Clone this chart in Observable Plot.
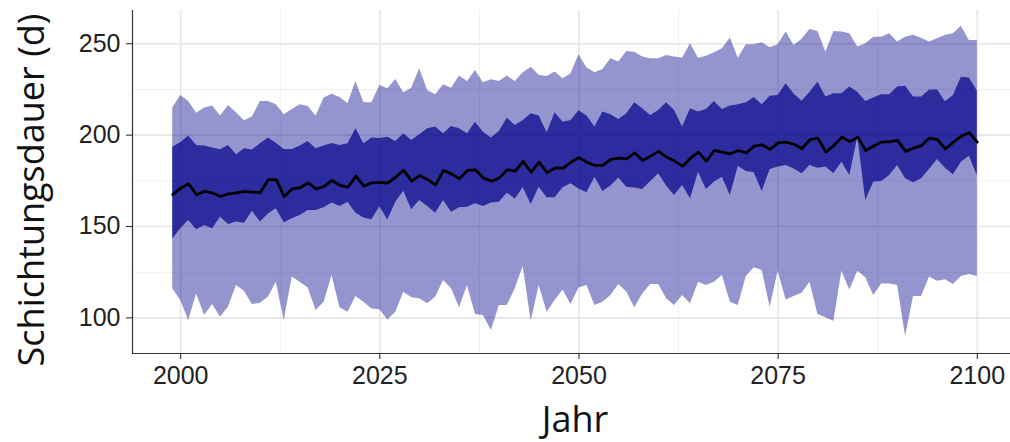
<!DOCTYPE html>
<html>
<head>
<meta charset="utf-8">
<script src="https://cdn.jsdelivr.net/npm/d3@7"></script>
<script src="https://cdn.jsdelivr.net/npm/@observablehq/plot@0.6"></script>
<style>
  html, body { margin: 0; padding: 0; background: #fff; overflow: hidden; }
  #chart { width: 1010px; height: 442px; }
</style>
</head>
<body>
<div id="chart"></div>
<script>
const years = [1999,2000,2001,2002,2003,2004,2005,2006,2007,2008,2009,2010,2011,2012,2013,2014,2015,2016,2017,2018,2019,2020,2021,2022,2023,2024,
2025,2026,2027,2028,2029,2030,2031,2032,2033,2034,2035,2036,2037,2038,2039,2040,2041,2042,2043,2044,2045,2046,2047,2048,2049,
2050,2051,2052,2053,2054,2055,2056,2057,2058,2059,2060,2061,2062,2063,2064,2065,2066,2067,2068,2069,2070,2071,2072,2073,2074,2075,2076,
2077,2078,2079,2080,2081,2082,2083,2084,2085,2086,2087,2088,2089,2090,2091,2092,2093,2094,2095,2096,2097,2098,2099,2100];

const outerHigh = [214.8,221.7,218.4,212.0,214.8,215.9,210.4,216.2,212.2,207.8,209.9,218.4,218.4,216.6,211.1,214.0,216.6,215.7,210.4,220.3,222.4,220.6,217.2,229.4,217.7,217.7,
227.2,225.4,230.5,223.2,225.7,236.3,224.4,222.1,227.6,225.7,232.3,229.4,235.4,228.6,230.3,229.4,232.3,229.4,234.1,237.2,232.7,232.1,234.5,230.8,233.6,
244.0,236.7,234.1,235.9,241.8,240.0,245.8,245.4,242.7,241.8,241.8,243.6,242.7,242.1,250.0,242.1,243.2,245.1,247.3,253.1,242.1,249.4,249.4,250.5,247.8,249.4,256.4,
249.1,252.5,257.8,256.7,245.4,256.7,256.4,255.5,248.2,250.0,253.6,253.6,255.5,250.9,253.6,254.6,253.0,250.9,252.7,254.6,255.5,259.6,251.8,251.8];

const innerHigh = [193.4,195.8,199.5,194.3,194.0,192.9,192.0,194.3,189.2,192.5,191.8,195.3,198.4,195.6,192.2,192.2,194.0,196.5,192.5,194.0,195.4,194.3,195.3,203.5,195.3,198.4,
198.2,198.9,196.5,200.7,197.1,200.2,203.5,204.4,200.7,204.7,203.5,200.7,207.1,201.6,198.4,202.0,209.3,205.3,208.0,211.7,210.4,201.3,212.2,207.1,208.0,
213.3,210.4,204.4,212.6,211.1,208.6,211.7,217.7,214.4,210.8,213.5,217.7,213.5,204.4,214.4,212.6,214.0,218.4,214.0,215.9,216.6,217.7,220.6,216.6,221.3,221.7,228.1,
222.5,218.5,223.5,229.0,220.8,222.6,222.6,226.3,223.5,218.4,220.3,222.1,222.1,226.3,226.7,220.8,220.8,224.6,224.9,218.2,221.7,231.7,231.3,224.1];

const median = [167.5,171.0,173.4,167.3,169.3,168.3,166.4,167.9,168.4,169.2,168.8,168.6,175.6,175.6,166.4,170.6,171.2,173.9,170.6,171.9,175.2,172.5,171.5,177.6,172.1,173.9,
174.1,173.7,177.0,180.7,174.8,177.9,175.7,172.8,180.7,178.8,176.1,180.7,181.0,176.5,174.8,176.6,181.0,180.3,185.6,179.7,185.2,179.4,182.1,181.9,185.2,
187.7,185.2,183.4,183.4,186.7,187.4,187.0,190.3,186.1,188.5,191.1,188.0,185.8,183.0,187.4,190.7,185.8,191.6,190.7,189.8,191.6,190.3,194.0,194.7,192.2,195.8,196.2,
195.0,192.7,197.6,198.4,190.7,194.3,198.9,196.5,198.9,191.6,194.0,196.2,196.5,197.1,191.1,192.9,194.3,198.4,197.6,192.5,196.2,199.5,201.3,196.2];

const innerLow = [143.2,148.7,153.3,148.2,150.5,148.7,155.1,151.1,152.4,151.8,158.4,152.4,156.9,159.7,152.0,154.2,156.0,158.7,158.7,160.2,162.8,161.0,163.3,157.3,154.7,153.7,
160.8,153.6,163.3,169.3,159.1,164.2,160.9,157.3,164.2,157.8,160.2,160.6,162.4,160.9,162.8,163.3,168.2,165.1,171.2,162.0,171.5,165.7,165.7,171.2,173.4,
170.5,168.4,177.0,169.2,172.1,176.5,171.5,171.0,170.3,174.6,178.8,172.1,167.0,172.4,165.2,179.7,170.3,174.3,177.0,167.0,183.0,180.1,179.4,169.2,181.2,182.5,183.4,
181.4,178.8,183.4,181.9,182.5,178.8,185.2,177.9,198.9,164.2,174.3,174.6,177.9,183.4,176.1,173.9,176.1,181.2,186.7,181.9,178.3,185.2,188.5,177.9];

const outerLow = [115.9,109.5,98.6,113.1,101.3,107.3,100.4,105.9,117.7,114.6,107.3,108.0,111.3,119.5,98.6,122.3,119.5,116.4,104.0,108.6,123.2,105.5,103.1,111.7,108.6,104.9,
104.5,98.9,103.1,114.0,111.0,110.4,107.7,111.3,120.4,115.9,105.5,117.7,101.8,101.3,93.1,106.7,106.7,115.9,128.1,98.2,117.7,103.1,109.5,115.3,107.3,
116.3,117.7,106.7,108.6,112.2,118.3,114.1,105.5,113.1,118.3,118.3,110.4,106.7,112.2,107.7,119.5,117.7,119.5,123.2,108.6,106.7,122.6,127.4,125.9,105.8,125.5,109.8,
111.7,113.5,119.5,101.8,100.0,98.2,125.5,115.3,125.5,121.9,112.2,118.6,118.6,117.7,89.8,111.7,111.7,122.3,120.1,120.8,118.3,122.6,123.7,122.6];

const xTicks = [2000, 2025, 2050, 2075, 2100];
const xMinor = [2012.5, 2037.5, 2062.5, 2087.5];
const yTicks = [100, 150, 200, 250];
const yMinor = [125, 175, 225];
const xDomain = [1993.95, 2105.05];
const yDomain = [80.5, 268.2];
const xTitle = "Jahr";
const yTitle = "Schichtungsdauer (d)";

const rows = years.map((year, i) => ({
  year,
  outerLow: outerLow[i], innerLow: innerLow[i], median: median[i],
  innerHigh: innerHigh[i], outerHigh: outerHigh[i]
}));

const tickFont = "'Liberation Sans', Arial, Helvetica, sans-serif";

const chart = Plot.plot({
  width: 1010,
  height: 442,
  marginLeft: 132,
  marginRight: 0,
  marginTop: 10,
  marginBottom: 89,
  style: { fontFamily: tickFont, fontSize: "25px", background: "white", overflow: "hidden" },
  x: { domain: xDomain, range: [132, 1017] },
  y: { domain: yDomain, range: [353, 10] },
  marks: [
    Plot.ruleY(yMinor, { stroke: "#efefef", strokeWidth: 1 }),
    Plot.ruleX(xMinor, { stroke: "#efefef", strokeWidth: 1 }),
    Plot.ruleY(yTicks, { stroke: "#e6e6e6", strokeWidth: 1.6 }),
    Plot.ruleX(xTicks, { stroke: "#e6e6e6", strokeWidth: 1.6 }),
    Plot.areaY(rows, { x: "year", y1: "outerLow", y2: "outerHigh", fill: "#00008b", fillOpacity: 0.42 }),
    Plot.areaY(rows, { x: "year", y1: "innerLow", y2: "innerHigh", fill: "#00008b", fillOpacity: 0.7 }),
    Plot.lineY(rows, { x: "year", y: "median", stroke: "black", strokeWidth: 2.8 }),
    Plot.ruleX([xDomain[0]], { stroke: "#333", strokeWidth: 1.2 }),
    Plot.ruleY([yDomain[0]], { stroke: "#333", strokeWidth: 1.2 }),
    Plot.axisX(xTicks, { tickSize: 6, tickPadding: 7, fontSize: 25, color: "#222", tickFormat: d => String(d), label: null }),
    Plot.axisY(yTicks, { tickSize: 6, tickPadding: 6, fontSize: 25, color: "#222", tickFormat: d => String(d), label: null })
  ]
});

document.getElementById("chart").appendChild(chart);

const svg = d3.select(chart);
const titleFont = "'Open Sans', 'Noto Sans', sans-serif";
svg.append("text")
  .attr("x", 575).attr("y", 432)
  .attr("text-anchor", "middle")
  .attr("font-family", titleFont).attr("font-size", 36).attr("fill", "#111")
  .text(xTitle);
svg.append("text")
  .attr("transform", "translate(44,190) rotate(-90)")
  .attr("text-anchor", "middle")
  .attr("font-family", titleFont).attr("font-size", 36).attr("fill", "#111")
  .text(yTitle);
</script>
</body>
</html>
